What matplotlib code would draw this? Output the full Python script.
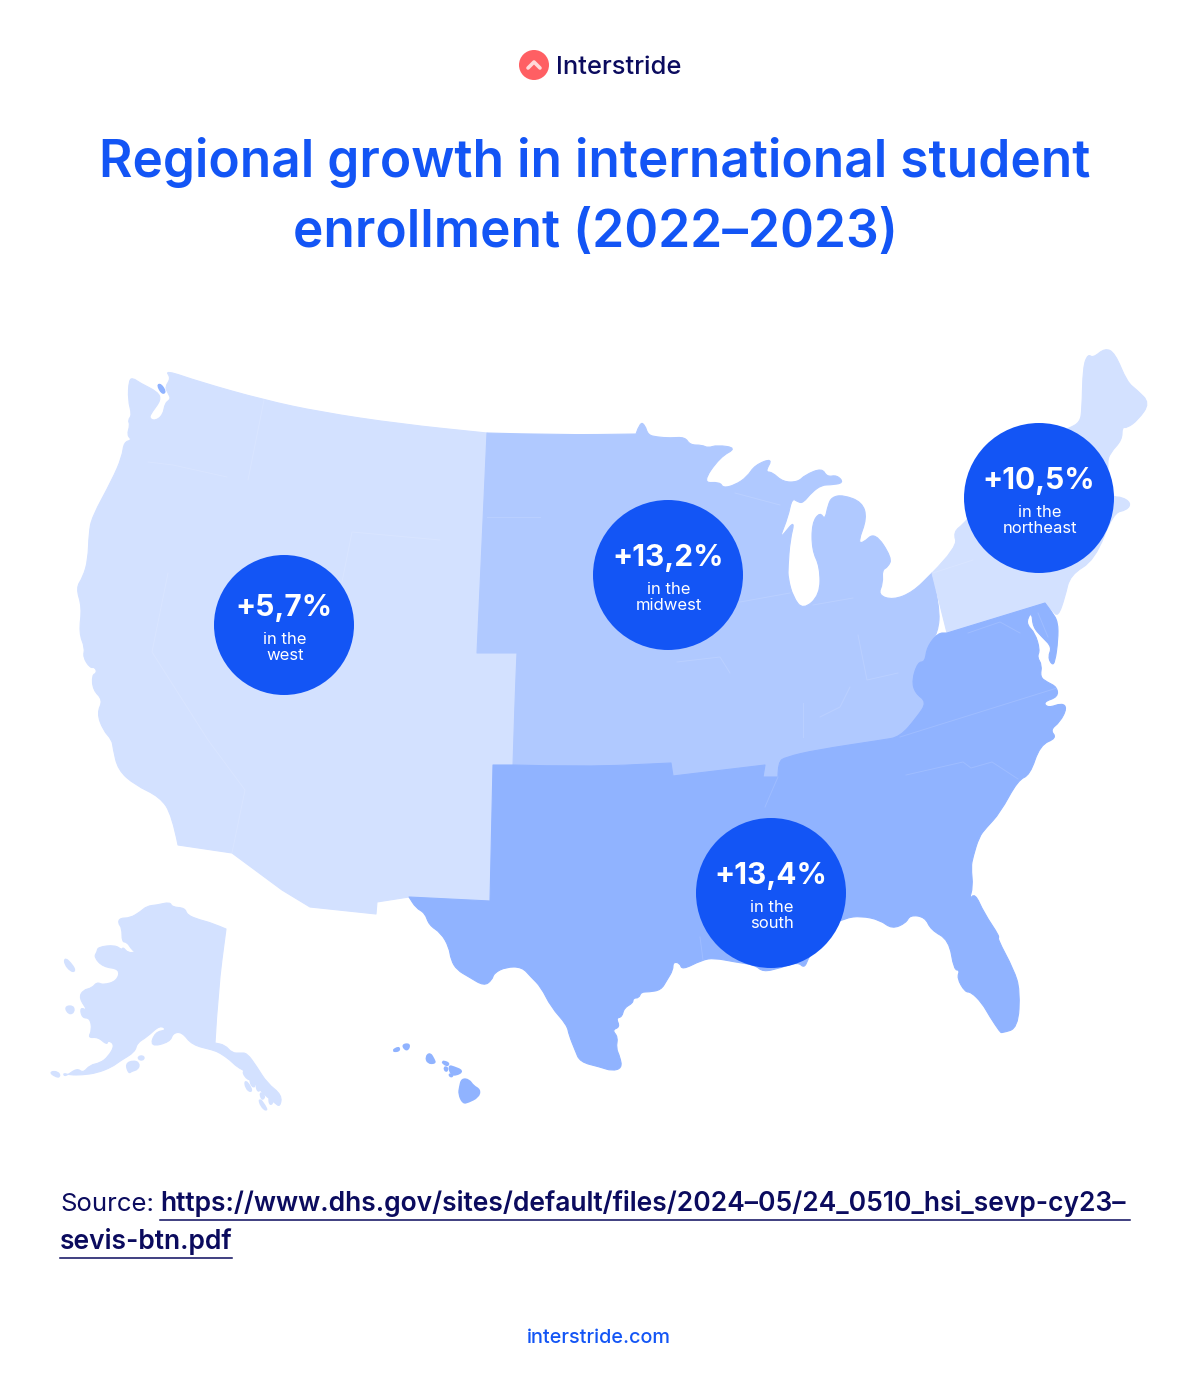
import matplotlib
matplotlib.use("Agg")
import matplotlib.pyplot as plt
from matplotlib.patches import Circle, PathPatch
from matplotlib.path import Path

plt.rcParams['font.family'] = ['Inter', 'DejaVu Sans']

# outlines, in image pixels
west = [(165,370),(200,382),(264,400),(320,412),(400,424),(487,433),(477,653),(517,653),(515,700),(514,740),(513,765),
        (493,765),(490,901),(409,897),(377,902),(376,914),(310,907),(282,890),(232,853),(178,845),(172,815),(160,797),
        (135,785),(118,770),(113,748),(112,740),(103,730),(97,713),(103,700),(93,690),(92,675),(97,673),(95,667),(90,668),
        (83,657),(85,648),(79,633),(82,607),(76,588),(83,577),(88,560),(89,533),(92,517),(112,480),(122,457),(124,442),
        (132,440),(127,435),(130,425),(128,420),(132,415),(128,400),(129,380),(133,378),(140,383),(158,392),(161,400),
        (152,412),(149,418),(155,421),(163,415),(165,403),(171,399),(168,393),(165,387),(171,378)]
west_corners = [(487,433),(477,653),(517,653),(513,765),(493,765),(490,901),(409,897),(377,902),(376,914),(310,907),(282,890),(232,853),(178,845)]
midwest = [(487,433),(560,435),(636,434),(640,422),(645,425),(648,435),(657,437),(670,438),(685,437),(690,445),(702,445),
           (708,448),(717,445),(737,448),(720,457),(702,483),(720,482),(723,488),(735,485),(747,477),(755,465),(773,458),
           (765,472),(772,472),(783,482),(798,482),(805,475),(822,468),(827,477),(837,475),(844,483),(830,485),(822,485),
           (812,492),(803,503),(798,502),(792,498),(788,517),(780,537),(783,535),(795,520),(790,540),(788,567),(788,578),
           (793,597),(803,610),(820,595),(820,567),(812,550),(812,523),(820,512),(825,520),(828,505),(832,497),(843,495),
           (862,502),(867,518),(858,542),(863,543),(875,532),(892,558),(888,567),(882,570),(883,583),(878,595),(893,600),
           (913,592),(932,573),(940,607),(938,633),(927,647),(925,662),(918,662),(912,680),(915,693),(927,702),(917,717),
           (900,737),(882,740),(816,750),(786,757),(778,762),(778,777),(763,777),(765,765),(673,776),(671,763),(584,767),
           (513,765),(515,700),(517,653),(477,653)]
midwest_corners = [(487,433),(636,434),(932,573),(778,777),(763,777),(765,765),(673,776),(671,763),(513,765),(517,653),(477,653)]
northeast = [(932,573),(958,547),(953,532),(965,523),(1000,480),(1040,440),(1070,428),(1080,422),(1082,410),(1083,367),
             (1088,354),(1093,358),(1105,348),(1115,353),(1127,382),(1137,390),(1150,403),(1138,420),(1127,428),(1122,427),
             (1122,440),(1110,453),(1107,463),(1110,490),(1113,497),(1122,497),(1131,503),(1127,510),(1113,513),(1095,560),
             (1070,575),(1065,597),(1058,617),(1052,610),(1045,603),(947,633)]
northeast_corners = [(932,573),(947,633),(1045,603)]
south = [(947,633),(1045,603),(1052,612),(1058,622),(1058,640),(1055,662),(1052,665),(1048,657),(1052,647),(1042,637),
         (1033,627),(1032,613),(1028,617),(1027,625),(1035,633),(1040,650),(1037,657),(1042,665),(1040,677),(1047,682),
         (1057,687),(1058,697),(1043,702),(1048,708),(1062,703),(1067,708),(1060,722),(1050,730),(1057,738),(1040,745),
         (1030,775),(1018,780),(1000,813),(986,828),(979,837),(973,857),(971,867),(973,887),(969,900),(975,893),(984,913),
         (1000,937),(997,938),(1014,970),(1020,990),(1018,1028),(1002,1033),(1000,1032),(990,1017),(982,1003),(971,992),
         (965,992),(957,978),(960,970),(954,970),(949,940),(931,930),(925,917),(910,915),(906,923),(892,929),(880,920),
         (861,916),(845,918),(820,930),(808,960),(804,968),(798,962),(780,968),(763,972),(755,965),(735,962),(714,958),
         (702,960),(682,970),(680,963),(673,962),(673,970),(667,980),(661,990),(649,992),(641,992),(639,998),(633,998),
         (633,1003),(624,1008),(622,1017),(616,1018),(620,1027),(612,1030),(618,1037),(616,1048),(620,1057),(622,1068),
         (612,1071),(600,1067),(580,1062),(575,1050),(569,1035),(567,1025),(551,1007),(541,987),(531,977),(522,967),
         (506,967),(494,973),(492,980),(484,986),(469,977),(457,970),(451,960),(449,947),(441,933),(429,925),(425,913),
         (416,908),(409,897),(490,901),(493,765),(513,765),(584,767),(671,763),(673,776),(765,765),(763,777),(778,777),
         (778,762),(786,757),(816,750),(882,740),(900,737),(917,717),(927,702),(915,693),(912,680),(918,662),(925,662),
         (927,647),(938,633)]
south_corners = [(947,633),(1045,603),(409,897),(490,901),(493,765),(513,765),(671,763),(673,776),(765,765),(763,777),(778,777)]
alaska = [(226,929),(212,923),(200,920),(187,915),(185,908),(172,907),(170,902),(157,905),(147,906),(140,912),(130,918),
          (120,918),(118,923),(122,928),(122,942),(127,942),(132,950),(136,952),(128,953),(123,947),(122,950),(115,945),
          (98,947),(97,952),(94,957),(103,967),(120,969),(117,981),(103,985),(97,982),(92,988),(83,990),(79,998),(88,1011),
          (80,1007),(82,1018),(90,1018),(92,1030),(88,1038),(98,1037),(107,1045),(108,1040),(115,1045),(108,1057),(100,1063),
          (90,1065),(83,1073),(77,1068),(65,1077),(63,1073),(70,1075),(82,1075),(97,1073),(112,1067),(120,1061),(135,1052),
          (137,1043),(147,1037),(160,1025),(167,1030),(155,1032),(150,1047),(170,1042),(173,1033),(182,1032),(192,1045),
          (213,1050),(220,1053),(230,1060),(237,1067),(247,1072),(257,1087),(267,1097),(275,1103),(280,1107),(282,1095),
          (267,1083),(257,1067),(247,1053),(240,1053),(232,1053),(225,1045),(215,1043),(218,990)]
alaska_corners = [(226,929),(215,1043)]
alaska_islands = [[(126,1064),(133,1061),(139,1063),(138,1069),(131,1071),(129,1073)],
                  [(138,1057),(143,1056),(144,1059),(140,1060)],
                  [(65,958),(72,965),(75,971),(71,971),(65,964)],
                  [(65,1007),(73,1006),(74,1012),(69,1014)],
                  [(50,1072),(58,1072),(60,1077),(55,1076)],
                  [(239,1059),(246,1061),(247,1069),(241,1067)],
                  [(242,1071),(250,1071),(253,1078),(248,1080)],
                  [(251,1076),(255,1082),(254,1088),(250,1082)],
                  [(245,1080),(251,1088),(251,1092),(246,1088)],
                  [(256,1084),(261,1088),(258,1092)],
                  [(260,1092),(265,1096),(262,1100)],
                  [(269,1097),(273,1102),(270,1105)],
                  [(259,1098),(265,1106),(267,1111),(261,1106)]]
hawaii = [[(392,1051),(399,1047),(399,1051)],
          [(402,1045),(410,1044),(407,1051)],
          [(426,1057),(430,1053),(434,1060),(435,1063),(428,1063)],
          [(441,1061),(449,1063),(447,1066)],
          [(444,1067),(448,1068),(446,1072)],
          [(449,1066),(453,1067),(463,1071),(456,1075),(451,1074)],
          [(449,1074),(453,1075),(451,1077)],
          [(462,1079),(469,1080),(473,1086),(480,1090),(478,1097),(468,1102),(463,1103),(459,1094),(460,1087)]]
lake_island = [(157,385),(161,384),(166,392),(162,394)]
# faint state lines
state_lines = [[(264,400),(248,480)], [(148,462),(173,465),(227,477)], [(168,573),(152,652),(208,740),(245,790),(232,853)],
               [(342,582),(352,532),(440,540)], [(487,517),(540,517)], [(735,493),(780,505)], [(740,602),(790,593)],
               [(813,605),(853,598)], [(858,635),(867,680),(898,673)], [(677,662),(720,657),(730,673)],
               [(803,703),(803,737)], [(850,687),(840,707),(820,717)], [(1057,688),(900,737)],
               [(968,633),(1000,622),(1020,633)], [(1038,613),(1048,637)], [(933,573),(973,560)],
               [(906,775),(963,762),(971,768),(992,762),(1018,779)], [(778,777),(771,793),(765,807)],
               [(700,937),(703,960)]]

region_outlines = [west, midwest, northeast, south, alaska]
region_corners = [west_corners, midwest_corners, northeast_corners, south_corners, alaska_corners]
region_colors = ['#D3E1FF', '#B0C9FF', '#D3E1FF', '#90B3FF', '#D3E1FF']
bubble_x = [284, 668, 1039, 771]
bubble_y = [625, 575, 498, 893]
bubble_r = [70, 75, 75, 75]
bubble_values = ['+5,7%', '+13,2%', '+10,5%', '+13,4%']
bubble_regions = ['west', 'midwest', 'northeast', 'south']
title_lines = ['Regional growth in international student', 'enrollment (2022–2023)']
source_url = ['https://www.dhs.gov/sites/default/files/2024–05/24_0510_hsi_sevp-cy23–', 'sevis-btn.pdf']

BLUE = '#1355F5'
NAVY = '#0B0B5E'

fig = plt.figure(figsize=(12, 13.94), dpi=100)
ax = fig.add_axes([0, 0, 1, 1])
ax.set_xlim(0, 1200)
ax.set_ylim(1394, 0)
ax.axis('off')


def blob(points, color, corners=(), lw=0.8, z=2):
    # round the coast with quadratic curves, keep the listed corners sharp
    pts = list(points)
    sharp = [p for p in pts if p in corners]
    if sharp:
        i = pts.index(sharp[0])
        pts = pts[i:] + pts[:i]
        verts, codes = [pts[0]], [Path.MOVETO]
        todo = pts[1:] + [pts[0]]
    else:
        start = ((pts[-1][0] + pts[0][0]) / 2, (pts[-1][1] + pts[0][1]) / 2)
        verts, codes = [start], [Path.MOVETO]
        todo = pts + [pts[0]]
    for p, nxt in zip(todo[:-1], todo[1:]):
        if p in corners:
            verts.append(p)
            codes.append(Path.LINETO)
        else:
            verts += [p, ((p[0] + nxt[0]) / 2, (p[1] + nxt[1]) / 2)]
            codes += [Path.CURVE3, Path.CURVE3]
    verts.append(verts[0])
    codes.append(Path.CLOSEPOLY)
    ax.add_patch(PathPatch(Path(verts, codes), facecolor=color, edgecolor=color, linewidth=lw, joinstyle='round', zorder=z))


for outline, corners, color in zip(region_outlines, region_corners, region_colors):
    blob(outline, color, corners)
for island in alaska_islands:
    blob(island, '#D3E1FF', lw=1.6)
for island in hawaii:
    blob(island, '#90B3FF', lw=1.6)
blob(lake_island, '#90B3FF', lw=1, z=3)

for line in state_lines:
    ax.plot([p[0] for p in line], [p[1] for p in line], color='white', alpha=0.13, lw=0.7, zorder=3)

for x, y, r, val, reg in zip(bubble_x, bubble_y, bubble_r, bubble_values, bubble_regions):
    ax.add_patch(Circle((x, y), r, facecolor=BLUE, edgecolor='none', zorder=5))
    ax.text(x, y - 9, val, color='white', fontsize=21.5, fontweight='bold', ha='center', va='baseline', zorder=6)
    ax.text(x + 1, y + 19, 'in the', color='white', fontsize=12, ha='center', va='baseline', zorder=6)
    ax.text(x + 1, y + 35, reg, color='white', fontsize=12, ha='center', va='baseline', zorder=6)

# logo
ax.add_patch(Circle((534, 65), 15, facecolor='#FF5F63', edgecolor='none'))
ax.plot([528, 534, 540], [68, 62, 68], color='#FFD9D9', lw=2.6, solid_capstyle='round', solid_joinstyle='round')
ax.text(556, 74, 'Interstride', color=NAVY, fontsize=18.4, fontweight='medium', ha='left', va='baseline')

ax.text(595, 177, title_lines[0], color=BLUE, fontsize=37, fontweight='semibold', ha='center', va='baseline')
ax.text(595, 247, title_lines[1], color=BLUE, fontsize=37, fontweight='semibold', ha='center', va='baseline')

ax.text(60, 1211, 'Source:', color=NAVY, fontsize=18.5, ha='left', va='baseline')
ax.text(160, 1211, source_url[0], color=NAVY, fontsize=19, fontweight='semibold', ha='left', va='baseline')
ax.text(60, 1249, source_url[1], color=NAVY, fontsize=19, fontweight='semibold', ha='left', va='baseline')
ax.plot([160, 1130], [1220, 1220], color=NAVY, lw=1.1)
ax.plot([60, 232], [1258, 1258], color=NAVY, lw=1.1)

ax.text(599, 1343, 'interstride.com', color=BLUE, fontsize=14.3, fontweight='medium', ha='center', va='baseline')

fig.savefig('out.png', dpi=100, facecolor='white')
